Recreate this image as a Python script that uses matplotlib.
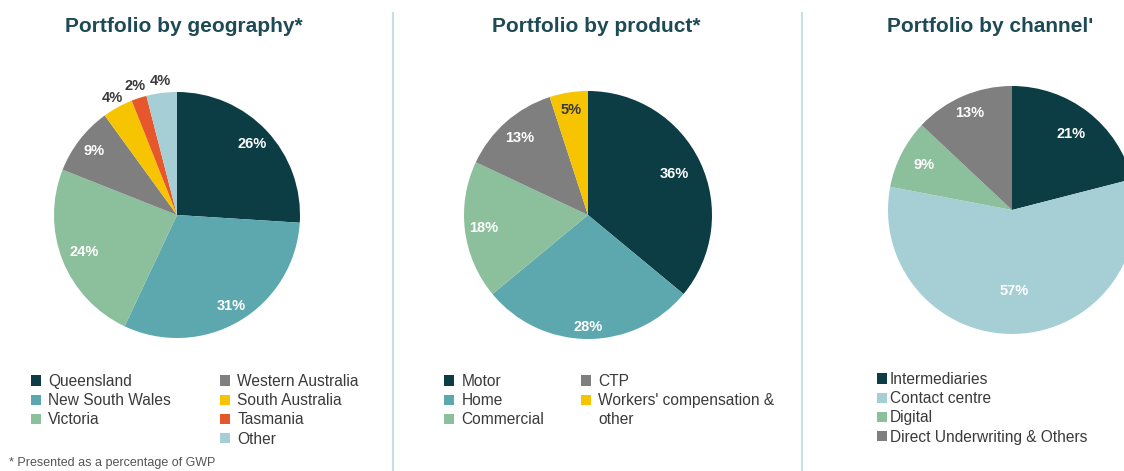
import matplotlib
matplotlib.use("Agg")
import numpy as np
import matplotlib.pyplot as plt
from matplotlib.lines import Line2D
from matplotlib.patches import Patch

plt.rcParams['font.family'] = ['Liberation Sans', 'DejaVu Sans']

W, H = 1124, 471

DARK = '#0c3c44'
TEAL = '#5da8ae'
GREEN = '#8cbf9b'
GREY = '#7f7f7f'
YELLOW = '#f6c400'
ORANGE = '#e6572b'
LIGHT = '#a6cfd5'
TITLE_COL = '#1d4a55'
TEXT_COL = '#3a3a3a'

geo_labels = ['Queensland', 'New South Wales', 'Victoria', 'Western Australia',
              'South Australia', 'Tasmania', 'Other']
geo_values = [26, 31, 24, 9, 4, 2, 4]
geo_colors = [DARK, TEAL, GREEN, GREY, YELLOW, ORANGE, LIGHT]

prod_labels = ['Motor', 'Home', 'Commercial', 'CTP', "Workers' compensation &\nother"]
prod_values = [36, 28, 18, 13, 5]
prod_colors = [DARK, TEAL, GREEN, GREY, YELLOW]

chan_labels = ['Intermediaries', 'Contact centre', 'Digital', 'Direct Underwriting & Others']
chan_values = [21, 57, 9, 13]
chan_colors = [DARK, LIGHT, GREEN, GREY]

fig = plt.figure(figsize=(W / 100, H / 100), dpi=100)


def pie_axes(cx, cy, r):
    ax = fig.add_axes([(cx - r) / W, (H - cy - r) / H, 2 * r / W, 2 * r / H])
    return ax


def draw_pie(ax, values, colors, label_r, label_cols):
    wedges, _ = ax.pie(values, colors=colors, startangle=90, counterclock=False,
                       radius=1.0, wedgeprops=dict(linewidth=0))
    for w, v, fr, c in zip(wedges, values, label_r, label_cols):
        ang = np.deg2rad((w.theta1 + w.theta2) / 2)
        ax.text(fr * np.cos(ang), fr * np.sin(ang), f'{v}%', ha='center', va='center',
                fontsize=10.5, fontweight='bold', color=c)
    ax.set_xlim(-1, 1)
    ax.set_ylim(-1, 1)
    ax.set_aspect('equal')
    ax.axis('off')
    return wedges


def legend_col(handles, labels, x, y, pad=0.5):
    # multi-line labels: extra lines get an invisible handle so rows stay aligned
    hs, ls = [], []
    for h, lab in zip(handles, labels):
        parts = lab.split('\n')
        hs.append(h)
        ls.append(parts[0])
        for p in parts[1:]:
            hs.append(Patch(facecolor='none', edgecolor='none'))
            ls.append(p)
    fig.legend(hs, ls, loc='upper left', bbox_to_anchor=(x / W, 1 - y / H),
               frameon=False, fontsize=11.2, borderpad=0, borderaxespad=0,
               handlelength=0.62, handleheight=0.62, handletextpad=pad,
               labelspacing=0.27, labelcolor=TEXT_COL)


# geography
ax1 = pie_axes(177, 215, 123)
w1 = draw_pie(ax1, geo_values, geo_colors,
              [0.84, 0.86, 0.81, 0.85, 1.09, 1.1, 1.1],
              ['white', 'white', 'white', 'white', TEXT_COL, TEXT_COL, TEXT_COL])
fig.text(184 / W, 1 - 27 / H, 'Portfolio by geography*', ha='center', va='center',
         fontsize=15, fontweight='bold', color=TITLE_COL)
legend_col(w1[:3], geo_labels[:3], 31, 374)
legend_col(w1[3:], geo_labels[3:], 220, 374)
fig.text(9 / W, 1 - 463 / H, '* Presented as a percentage of GWP', ha='left', va='center',
         fontsize=9, color='#555555')

# product
ax2 = pie_axes(588, 215, 124)
w2 = draw_pie(ax2, prod_values, prod_colors,
              [0.77, 0.9, 0.85, 0.83, 0.86],
              ['white', 'white', 'white', 'white', TEXT_COL])
fig.text(596 / W, 1 - 27 / H, 'Portfolio by product*', ha='center', va='center',
         fontsize=15, fontweight='bold', color=TITLE_COL)
legend_col(w2[:3], prod_labels[:3], 444, 374)
legend_col(w2[3:], prod_labels[3:], 581, 374)

# channel
ax3 = pie_axes(1012, 210, 124)
w3 = draw_pie(ax3, chan_values, chan_colors,
              [0.78, 0.65, 0.8, 0.85],
              ['white', 'white', 'white', 'white'])
fig.text(990 / W, 1 - 27 / H, "Portfolio by channel'", ha='center', va='center',
         fontsize=15, fontweight='bold', color=TITLE_COL)
legend_col(w3, chan_labels, 877, 372, pad=0.2)

# separators
for xs in (393, 802):
    fig.add_artist(Line2D([xs / W, xs / W], [0, 1 - 13 / H], transform=fig.transFigure,
                          color='#c8e0e4', linewidth=1.5))

fig.savefig('out.png', dpi=100)
